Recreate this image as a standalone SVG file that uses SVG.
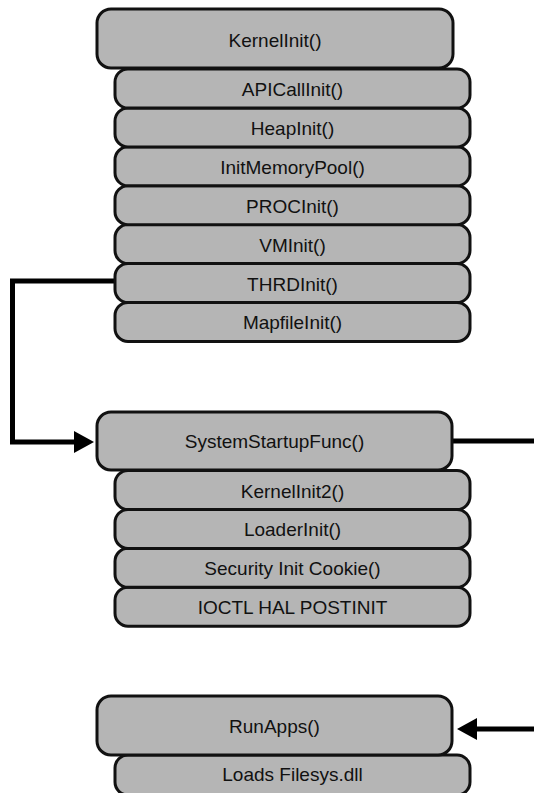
<svg xmlns="http://www.w3.org/2000/svg" width="534" height="793" viewBox="0 0 534 793">
<style>
.main{fill:#b5b5b5;stroke:#111;stroke-width:3}
.sub{fill:#b5b5b5;stroke:#111;stroke-width:3}
.lbl{font-family:"Liberation Sans",Arial,sans-serif;font-size:19px;fill:#111;text-anchor:middle}
.conn{fill:none;stroke:#000;stroke-width:5;stroke-linejoin:miter;stroke-linecap:butt}
</style>
<defs>
<marker id="arr" viewBox="0 0 20 22" refX="1" refY="11" markerWidth="20" markerHeight="22" markerUnits="userSpaceOnUse" orient="auto">
<path d="M0,0 L20,11 L0,22 z" fill="#000"/>
</marker>
</defs>
<rect width="534" height="793" fill="#fff"/>

<g id="connectors">
<path class="conn" d="M115,281 H12.5 V442 H75" marker-end="url(#arr)"/>
<path class="conn" d="M452,441 H534"/>
<path class="conn" d="M534,729 H476" marker-end="url(#arr)"/>
</g>

<g id="n-mapfileinit"><rect class="sub" x="115" y="302.4" width="355" height="39" rx="13"/><text class="lbl" x="292.5" y="329.4">MapfileInit()</text></g>
<g id="n-thrdinit"><rect class="sub" x="115" y="263.5" width="355" height="39" rx="13"/><text class="lbl" x="292.5" y="290.5">THRDInit()</text></g>
<g id="n-vminit"><rect class="sub" x="115" y="224.6" width="355" height="39" rx="13"/><text class="lbl" x="292.5" y="251.6">VMInit()</text></g>
<g id="n-procinit"><rect class="sub" x="115" y="185.7" width="355" height="39" rx="13"/><text class="lbl" x="292.5" y="212.7">PROCInit()</text></g>
<g id="n-initmemorypool"><rect class="sub" x="115" y="146.8" width="355" height="39" rx="13"/><text class="lbl" x="292.5" y="173.8">InitMemoryPool()</text></g>
<g id="n-heapinit"><rect class="sub" x="115" y="107.9" width="355" height="39" rx="13"/><text class="lbl" x="292.5" y="134.9">HeapInit()</text></g>
<g id="n-apicallinit"><rect class="sub" x="115" y="69" width="355" height="39" rx="13"/><text class="lbl" x="292.5" y="96">APICallInit()</text></g>
<g id="n-kernelinit"><rect class="main" x="97" y="9" width="356" height="59" rx="14"/><text class="lbl" x="275" y="47">KernelInit()</text></g>

<g id="n-ioctl"><rect class="sub" x="115" y="587.2" width="355" height="39" rx="13"/><text class="lbl" x="292.5" y="614.2">IOCTL HAL POSTINIT</text></g>
<g id="n-security"><rect class="sub" x="115" y="548.3" width="355" height="39" rx="13"/><text class="lbl" x="292.5" y="575.3">Security Init Cookie()</text></g>
<g id="n-loaderinit"><rect class="sub" x="115" y="509.4" width="355" height="39" rx="13"/><text class="lbl" x="292.5" y="536.4">LoaderInit()</text></g>
<g id="n-kernelinit2"><rect class="sub" x="115" y="470.5" width="355" height="39" rx="13"/><text class="lbl" x="292.5" y="497.5">KernelInit2()</text></g>
<g id="n-systemstartupfunc"><rect class="main" x="97" y="412" width="355" height="58" rx="14"/><text class="lbl" x="274.5" y="448">SystemStartupFunc()</text></g>

<g id="n-loadsfilesys"><rect class="sub" x="115" y="755" width="355" height="40" rx="13"/><text class="lbl" x="292.5" y="781">Loads Filesys.dll</text></g>
<g id="n-runapps"><rect class="main" x="97" y="696" width="355" height="59" rx="14"/><text class="lbl" x="274.5" y="733">RunApps()</text></g>
</svg>
